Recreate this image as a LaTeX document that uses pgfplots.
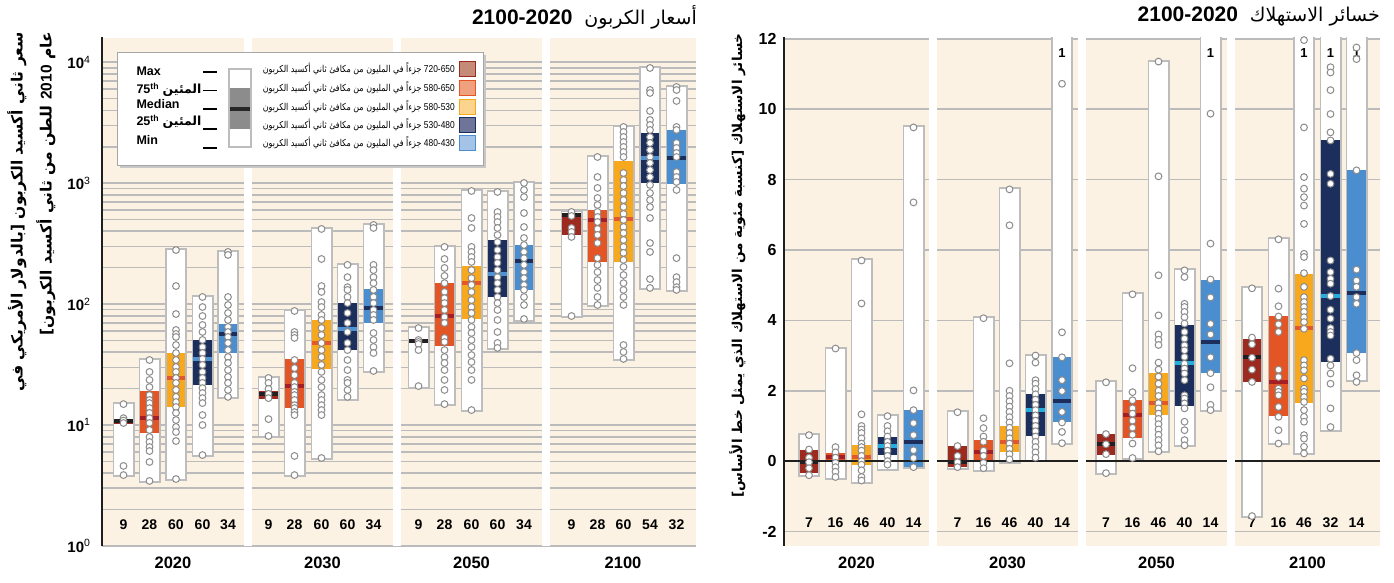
\documentclass[border=0pt]{standalone}
\usepackage{pgfplots}
\pgfplotsset{compat=1.18}
\usepackage{pgfplotstable}
\usepackage{graphicx}
\usepackage{fontspec}
\setmainfont{Liberation Sans}
\newfontfamily\arabicfont[Script=Arabic]{DejaVu Sans}
\TeXXeTstate=1
\newcommand\fs[1]{\fontsize{#1}{#1}\selectfont}
\definecolor{beige}{HTML}{FCF2E3}
\definecolor{gridgray}{HTML}{BBBBBB}
\definecolor{boxgray}{HTML}{BDBDBD}
\definecolor{circgray}{HTML}{8C8C8C}
\definecolor{band1}{HTML}{9C2A1E}
\definecolor{band2}{HTML}{E35524}
\definecolor{band3}{HTML}{F7A81D}
\definecolor{band4}{HTML}{1B2E5C}
\definecolor{band5}{HTML}{4A8ECF}
\definecolor{medL1}{HTML}{231F20}
\definecolor{medL2}{HTML}{A51E24}
\definecolor{medL3}{HTML}{E4572A}
\definecolor{medL4}{HTML}{4F93D2}
\definecolor{medL5}{HTML}{1B2E5C}
\definecolor{medR1}{HTML}{231F20}
\definecolor{medR2}{HTML}{A51E24}
\definecolor{medR3}{HTML}{E4572A}
\definecolor{medR4}{HTML}{22AEE0}
\definecolor{medR5}{HTML}{1B2E5C}
\definecolor{leg1}{HTML}{C58A78}
\definecolor{leg2}{HTML}{F0A07F}
\definecolor{leg3}{HTML}{FDD48E}
\definecolor{leg4}{HTML}{6F7598}
\definecolor{leg5}{HTML}{A4C3E6}

% boxes: x min q1 med q3 max c
\pgfplotstableread{
x min q1 med q3 max c
123.5 3.86 10.2 10.8 11.2 14.9 1
149.5 3.45 8.60 11.4 19.1 34.5 2
176 3.58 14.1 24.5 39.4 280 3
202.5 5.65 21.4 35.2 50.5 114.5 4
228 17.1 39.4 56.6 68.5 270 5
268.5 8.12 16.4 18.1 19.1 24.5 1
294.5 3.86 13.8 21.0 35.2 87.7 2
321.5 5.34 29.1 47.7 73.9 418 3
347.5 16.4 41.7 62.3 102 211 4
373.5 28.0 69.8 92.9 133 451 5
418.5 20.6 48.0 49.5 51.0 63.4 1
444.5 14.9 45.0 79.7 149 297 2
471.5 13.3 75.3 149 207 861 3
497.5 43.4 114.5 177 339 845 4
524 73.9 131 227 308 1003 5
571.5 79.7 373 548 570 578 1
597.5 98.3 223 496 600 1645 2
623.5 35.2 223 505 1525 2913 3
650 136 1003 1614 2598 8954 4
676.5 131 984 1614 2751 6237 5
}\boxL
\pgfplotstableread{
x min q1 med q3 max c
809 -0.40 -0.34 -0.03 0.31 0.74 1
835.5 -0.48 0.03 0.11 0.23 3.2 2
861.5 -0.6 -0.11 0.11 0.45 5.7 3
887.5 -0.23 0.17 0.43 0.68 1.28 4
913.5 -0.17 -0.17 0.54 1.45 9.48 5
957.5 -0.2 -0.17 -0.03 0.43 1.39 1
983.5 -0.26 0.03 0.26 0.6 4.06 2
1009.5 -0.03 0.26 0.54 0.99 7.72 3
1035.5 0.03 0.71 1.45 1.9 3.0 4
1062 0.51 1.11 1.70 2.95 13 5
1106 -0.34 0.17 0.48 0.77 2.24 1
1132.5 0.09 0.65 1.30 1.73 4.74 2
1158.5 0.28 1.30 1.65 2.5 11.35 3
1184.5 0.45 1.56 2.78 3.86 5.42 4
1210.5 1.45 2.5 3.38 5.16 13 5
1252 -1.56 2.24 2.95 3.46 4.91 1
1278.5 0.51 1.28 2.24 4.11 6.30 2
1304 0.23 1.65 3.77 5.33 13 3
1330.5 0.88 2.81 4.68 9.11 13 4
1356.5 2.30 3.06 4.77 8.26 13 5
}\boxR

\newcommand\drawboxes[2]{%
  \pgfplotstablegetrowsof{#1}%
  \pgfmathtruncatemacro\lastrow{\pgfplotsretval-1}%
  \pgfplotsforeachungrouped \rowi in {0,...,\lastrow}{%
    \pgfplotstablegetelem{\rowi}{x}\of{#1}\let\bx\pgfplotsretval
    \pgfplotstablegetelem{\rowi}{min}\of{#1}\let\bmin\pgfplotsretval
    \pgfplotstablegetelem{\rowi}{q1}\of{#1}\let\bqa\pgfplotsretval
    \pgfplotstablegetelem{\rowi}{med}\of{#1}\let\bmed\pgfplotsretval
    \pgfplotstablegetelem{\rowi}{q3}\of{#1}\let\bqb\pgfplotsretval
    \pgfplotstablegetelem{\rowi}{max}\of{#1}\let\bmax\pgfplotsretval
    \pgfplotstablegetelem{\rowi}{c}\of{#1}\let\bc\pgfplotsretval
    \edef\doit{%
      \noexpand\addplot[forget plot, draw=boxgray, line width=22pt, shorten <=-2pt, shorten >=-2pt] coordinates {(\bx,\bmin) (\bx,\bmax)};%
      \noexpand\addplot[forget plot, draw=white, line width=18.5pt] coordinates {(\bx,\bmin) (\bx,\bmax)};%
      \noexpand\addplot[forget plot, draw=band\bc, line width=18.5pt] coordinates {(\bx,\bqa) (\bx,\bqb)};%
      \noexpand\addplot[forget plot, only marks, mark=-, mark size=9.25pt, mark options={line width=4pt, draw=med#2\bc}] coordinates {(\bx,\bmed)};%
    }\doit
  }%
}
\def\cntL#1/#2\relax{\node[font=\bfseries\fs{14}] at (axis cs:#1,1.49) {#2};}
\def\cntR#1/#2\relax{\node[font=\bfseries\fs{14}] at (axis cs:#1,-1.76) {#2};}
\def\oneR#1\relax{\node[font=\bfseries\fs{13}] at (axis cs:#1,11.6) {1};}

\pgfplotsset{circ/.style={only marks, mark=*, mark size=3.4pt, mark options={fill=white, draw=circgray, line width=1pt}}}

\begin{document}
\begin{tikzpicture}
% ================= LEFT CHART =================
\begin{axis}[at={(102pt,36pt)}, anchor=south west, scale only axis, width=594pt, height=508pt,
  xmin=102, xmax=696, ymode=log, ymin=1, ymax=15849,
  axis background/.style={fill=beige},
  axis line style={draw=none},
  xtick=\empty, ytick={1,10,100,1000,10000},
  yticklabels={\textbf{10}\textsuperscript{0},\textbf{10}\textsuperscript{1},\textbf{10}\textsuperscript{2},\textbf{10}\textsuperscript{3},\textbf{10}\textsuperscript{4}},
  minor ytick={2,3,...,9,20,30,...,90,200,300,...,900,2000,3000,...,9000},
  ymajorgrids, yminorgrids,
  major grid style={draw=gridgray, line width=1.6pt},
  minor grid style={draw=gridgray, line width=1.6pt},
  major tick length=0pt, minor tick length=0pt,
  yticklabel style={font=\fs{15}, xshift=-8pt},
]
\fill[white] (axis cs:244,1) rectangle (axis cs:252,15849);
\fill[white] (axis cs:393,1) rectangle (axis cs:401,15849);
\fill[white] (axis cs:542,1) rectangle (axis cs:550,15849);
\drawboxes{\boxL}{L}
\addplot[circ] table[row sep=\\] {x y\\
123.5 14.9\\123.5 11.4\\123.5 10.9\\123.5 10.4\\123.5 4.59\\123.5 3.86\\
149.5 34.5\\149.5 27.5\\149.5 23.6\\149.5 20.6\\149.5 17.7\\149.5 16.1\\149.5 15.2\\149.5 13.8\\149.5 12.6\\149.5 11.4\\149.5 10.4\\149.5 9.10\\149.5 7.96\\149.5 7.24\\149.5 6.58\\149.5 6.10\\149.5 4.95\\149.5 3.45\\
176 280\\176 141\\176 82.8\\176 61.1\\176 56.6\\176 53.5\\176 45.9\\176 39.4\\176 34.5\\176 30.2\\176 27.5\\176 24.5\\176 22.3\\176 19.5\\176 17.1\\176 15.5\\176 14.1\\176 12.6\\176 11.0\\176 9.64\\176 8.76\\176 7.38\\176 3.58\\
202.5 114.5\\202.5 94.6\\202.5 79.7\\202.5 67.2\\202.5 58.8\\202.5 50.5\\202.5 44.2\\202.5 39.4\\202.5 35.2\\202.5 31.4\\202.5 27.5\\202.5 24.5\\202.5 22.3\\202.5 20.2\\202.5 18.4\\202.5 16.7\\202.5 15.2\\202.5 12.1\\202.5 10.0\\202.5 5.65\\
228 270\\228 255\\228 114.5\\228 98.3\\228 84.4\\228 73.9\\228 64.7\\228 58.8\\228 53.5\\228 47.7\\228 41.7\\228 36.5\\228 32.6\\228 28.5\\228 25.0\\228 22.3\\228 19.5\\228 17.1\\
268.5 24.5\\268.5 22.3\\268.5 19.9\\268.5 18.1\\268.5 16.7\\268.5 11.2\\268.5 8.12\\
294.5 87.7\\294.5 58.8\\294.5 55.5\\294.5 52.5\\294.5 34.5\\294.5 29.6\\294.5 25.9\\294.5 22.3\\294.5 20.6\\294.5 18.8\\294.5 17.7\\294.5 16.1\\294.5 14.6\\294.5 13.8\\294.5 12.8\\294.5 12.1\\294.5 5.55\\294.5 3.86\\
321.5 418\\321.5 236\\321.5 141\\321.5 126\\321.5 104\\321.5 94.6\\321.5 81.3\\321.5 73.9\\321.5 63.4\\321.5 55.5\\321.5 47.7\\321.5 41.7\\321.5 36.5\\321.5 31.4\\321.5 27.5\\321.5 23.6\\321.5 20.6\\321.5 17.7\\321.5 16.1\\321.5 14.6\\321.5 13.3\\321.5 12.1\\321.5 5.34\\
347.5 211\\347.5 167\\347.5 138\\347.5 131\\347.5 114.5\\347.5 102\\347.5 84.4\\347.5 69.8\\347.5 58.8\\347.5 47.7\\347.5 41.7\\347.5 34.5\\347.5 28.5\\347.5 23.6\\347.5 22.3\\347.5 19.5\\347.5 17.1\\
373.5 451\\373.5 426\\373.5 211\\373.5 191\\373.5 167\\373.5 149\\373.5 131\\373.5 114.5\\373.5 102\\373.5 89.4\\373.5 81.3\\373.5 73.9\\373.5 57.7\\373.5 50.5\\373.5 44.2\\373.5 39.4\\373.5 28.0\\
418.5 63.4\\418.5 50.5\\418.5 48.6\\418.5 46.8\\418.5 41.7\\418.5 21.0\\
444.5 297\\444.5 236\\444.5 199\\444.5 171\\444.5 149\\444.5 126\\444.5 112\\444.5 102\\444.5 89.4\\444.5 78.2\\444.5 69.8\\444.5 52.5\\444.5 48.6\\444.5 41.7\\444.5 36.5\\444.5 32.6\\444.5 28.5\\444.5 23.6\\444.5 19.5\\444.5 14.9\\
471.5 861\\471.5 515\\471.5 426\\471.5 297\\471.5 270\\471.5 245\\471.5 223\\471.5 191\\471.5 164\\471.5 144\\471.5 126\\471.5 108\\471.5 94.6\\471.5 84.4\\471.5 73.9\\471.5 64.7\\471.5 57.7\\471.5 50.5\\471.5 44.2\\471.5 37.9\\471.5 33.2\\471.5 28.5\\471.5 23.6\\471.5 13.3\\
497.5 845\\497.5 577\\497.5 525\\497.5 477\\497.5 426\\497.5 373\\497.5 326\\497.5 280\\497.5 245\\497.5 219\\497.5 191\\497.5 167\\497.5 149\\497.5 131\\497.5 114.5\\497.5 102\\497.5 89.4\\497.5 73.9\\497.5 58.8\\497.5 47.7\\497.5 43.4\\
524 1003\\524 878\\524 768\\524 566\\524 434\\524 352\\524 308\\524 270\\524 240\\524 211\\524 184\\524 164\\524 144\\524 131\\524 114.5\\524 98.3\\524 75.3\\
571.5 578\\571.5 535\\571.5 426\\571.5 395\\571.5 359\\571.5 79.7\\
597.5 1645\\597.5 1124\\597.5 912\\597.5 754\\597.5 660\\597.5 578\\597.5 525\\597.5 477\\597.5 418\\597.5 373\\597.5 320\\597.5 240\\597.5 211\\597.5 184\\597.5 158\\597.5 136\\597.5 114.5\\597.5 98.3\\
623.5 2913\\623.5 2649\\623.5 2408\\623.5 2188\\623.5 1991\\623.5 1809\\623.5 1645\\623.5 1213\\623.5 1062\\623.5 947\\623.5 829\\623.5 725\\623.5 635\\623.5 556\\623.5 496\\623.5 434\\623.5 387\\623.5 339\\623.5 297\\623.5 265\\623.5 232\\623.5 203\\623.5 174\\623.5 149\\623.5 131\\623.5 114.5\\623.5 98.3\\623.5 45.9\\623.5 40.2\\623.5 35.2\\
650 8954\\650 5890\\650 5562\\650 3951\\650 3327\\650 3027\\650 2751\\650 2408\\650 2148\\650 1880\\650 1645\\650 1468\\650 1284\\650 1124\\650 966\\650 829\\650 725\\650 635\\650 515\\650 320\\650 270\\650 161\\650 136\\
676.5 6237\\676.5 5890\\676.5 4779\\676.5 2913\\676.5 2751\\676.5 2148\\676.5 1953\\676.5 1775\\676.5 1645\\676.5 1236\\676.5 1124\\676.5 1022\\676.5 878\\676.5 240\\676.5 167\\676.5 152\\676.5 138\\676.5 131\\
};
\pgfplotsinvokeforeach{123.5/9,149.5/28,176/60,202.5/60,228/34,268.5/9,294.5/28,321.5/60,347.5/60,373.5/34,418.5/9,444.5/28,471.5/60,497.5/60,524/34,571.5/9,597.5/28,623.5/60,650/54,676.5/32}{\cntL#1\relax}
\end{axis}

% ================= RIGHT CHART =================
\begin{axis}[at={(784pt,36pt)}, anchor=south west, scale only axis, width=596pt, height=508pt,
  xmin=784, xmax=1380, ymin=-2.41, ymax=12.02,
  axis background/.style={fill=beige},
  axis line style={draw=none},
  xtick=\empty, ytick={-2,0,...,12},
  ymajorgrids,
  major grid style={draw=gridgray, line width=1.6pt},
  major tick length=0pt,
  /pgf/number format/assume math mode=true,
  yticklabel style={font=\bfseries\fs{16}, xshift=-4pt},
]
\fill[white] (axis cs:929,-3) rectangle (axis cs:937,13);
\fill[white] (axis cs:1078,-3) rectangle (axis cs:1086,13);
\fill[white] (axis cs:1227,-3) rectangle (axis cs:1235,13);
\drawboxes{\boxR}{R}
\draw[line width=2pt, black!88] (axis cs:784,0) -- (axis cs:929,0);
\draw[line width=2pt, black!88] (axis cs:937,0) -- (axis cs:1078,0);
\draw[line width=2pt, black!88] (axis cs:1086,0) -- (axis cs:1227,0);
\draw[line width=2pt, black!88] (axis cs:1235,0) -- (axis cs:1380,0);
\addplot[circ] table[row sep=\\] {x y\\
809 0.74\\809 0.33\\809 0.1\\809 -0.03\\809 -0.2\\809 -0.4\\
835.5 3.2\\835.5 0.4\\835.5 0.25\\835.5 0.1\\835.5 -0.05\\835.5 -0.17\\835.5 -0.3\\835.5 -0.45\\
861.5 5.7\\861.5 4.48\\861.5 1.33\\861.5 1.0\\861.5 0.9\\861.5 0.8\\861.5 0.65\\861.5 0.5\\861.5 0.4\\861.5 0.3\\861.5 0.15\\861.5 0.0\\861.5 -0.1\\861.5 -0.26\\861.5 -0.45\\861.5 -0.55\\
887.5 1.28\\887.5 1.0\\887.5 0.85\\887.5 0.7\\887.5 0.55\\887.5 0.43\\887.5 0.3\\887.5 0.15\\887.5 0.0\\887.5 -0.1\\
913.5 9.48\\913.5 7.35\\913.5 2.01\\913.5 1.45\\913.5 1.08\\913.5 0.74\\913.5 0.31\\913.5 0.09\\913.5 -0.17\\
957.5 1.39\\957.5 0.43\\957.5 0.15\\957.5 -0.03\\957.5 -0.17\\
983.5 4.06\\983.5 1.22\\983.5 0.94\\983.5 0.7\\983.5 0.55\\983.5 0.3\\983.5 0.15\\983.5 -0.05\\983.5 -0.2\\
1009.5 7.72\\1009.5 6.7\\1009.5 2.78\\1009.5 2.0\\1009.5 1.85\\1009.5 1.7\\1009.5 1.55\\1009.5 1.4\\1009.5 1.25\\1009.5 1.1\\1009.5 0.95\\1009.5 0.8\\1009.5 0.65\\1009.5 0.5\\1009.5 0.35\\1009.5 0.2\\1009.5 0.05\\
1035.5 3.0\\1035.5 2.8\\1035.5 2.3\\1035.5 2.2\\1035.5 2.05\\1035.5 1.9\\1035.5 1.75\\1035.5 1.6\\1035.5 1.45\\1035.5 1.3\\1035.5 1.15\\1035.5 1.0\\1035.5 0.85\\1035.5 0.7\\1035.5 0.55\\1035.5 0.4\\1035.5 0.25\\1035.5 0.1\\
1062 10.72\\1062 3.66\\1062 2.95\\1062 2.3\\1062 1.99\\1062 1.4\\1062 1.1\\1062 0.83\\1062 0.51\\
1106 2.24\\1106 0.77\\1106 0.48\\1106 0.2\\1106 -0.34\\
1132.5 4.74\\1132.5 2.64\\1132.5 1.96\\1132.5 1.73\\1132.5 1.5\\1132.5 1.35\\1132.5 1.15\\1132.5 0.95\\1132.5 0.75\\1132.5 0.5\\1132.5 0.09\\
1158.5 11.35\\1158.5 8.09\\1158.5 5.28\\1158.5 4.14\\1158.5 3.6\\1158.5 3.45\\1158.5 3.3\\1158.5 2.8\\1158.5 2.6\\1158.5 2.4\\1158.5 2.2\\1158.5 2.0\\1158.5 1.85\\1158.5 1.65\\1158.5 1.5\\1158.5 1.35\\1158.5 1.2\\1158.5 1.05\\1158.5 0.9\\1158.5 0.75\\1158.5 0.6\\1158.5 0.45\\1158.5 0.28\\
1184.5 5.42\\1184.5 5.23\\1184.5 4.47\\1184.5 4.38\\1184.5 4.24\\1184.5 4.09\\1184.5 3.91\\1184.5 3.67\\1184.5 3.48\\1184.5 3.29\\1184.5 3.15\\1184.5 2.96\\1184.5 2.77\\1184.5 2.63\\1184.5 2.49\\1184.5 2.30\\1184.5 1.87\\1184.5 1.78\\1184.5 1.64\\1184.5 1.50\\1184.5 1.12\\1184.5 0.88\\1184.5 0.60\\1184.5 0.45\\
1210.5 9.87\\1210.5 6.18\\1210.5 5.16\\1210.5 4.65\\1210.5 3.9\\1210.5 3.6\\1210.5 2.95\\1210.5 2.5\\1210.5 2.1\\1210.5 1.6\\1210.5 1.45\\
1252 4.91\\1252 3.51\\1252 3.32\\1252 2.94\\1252 2.60\\1252 2.25\\1252 -1.56\\
1278.5 6.30\\1278.5 4.90\\1278.5 4.40\\1278.5 4.11\\1278.5 3.89\\1278.5 3.67\\1278.5 2.60\\1278.5 2.39\\1278.5 2.06\\1278.5 1.97\\1278.5 1.87\\1278.5 1.54\\1278.5 1.26\\1278.5 0.88\\1278.5 0.50\\
1304 11.96\\1304 9.48\\1304 8.07\\1304 7.74\\1304 7.50\\1304 7.26\\1304 6.74\\1304 5.89\\1304 5.80\\1304 5.34\\1304 4.95\\1304 4.66\\1304 4.52\\1304 4.38\\1304 4.24\\1304 4.09\\1304 3.95\\1304 3.76\\1304 2.87\\1304 2.72\\1304 2.58\\1304 2.35\\1304 2.06\\1304 1.97\\1304 1.82\\1304 1.68\\1304 1.45\\1304 1.26\\1304 1.12\\1304 0.74\\1304 0.64\\1304 0.41\\1304 0.22\\
1330.5 11.19\\1330.5 11.04\\1330.5 10.54\\1330.5 9.86\\1330.5 9.34\\1330.5 9.11\\1330.5 8.16\\1330.5 7.88\\1330.5 5.70\\1330.5 5.37\\1330.5 5.18\\1330.5 5.04\\1330.5 4.69\\1330.5 4.30\\1330.5 4.05\\1330.5 3.78\\1330.5 3.67\\1330.5 3.57\\1330.5 2.91\\1330.5 2.72\\1330.5 2.49\\1330.5 2.20\\1330.5 1.50\\1330.5 0.97\\
1356.5 11.75\\1356.5 11.42\\1356.5 8.26\\1356.5 5.44\\1356.5 5.13\\1356.5 4.95\\1356.5 4.66\\1356.5 4.47\\1356.5 3.07\\1356.5 2.87\\1356.5 2.44\\1356.5 2.25\\
};
\pgfplotsinvokeforeach{809/7,835.5/16,861.5/46,887.5/40,913.5/14,957.5/7,983.5/16,1009.5/46,1035.5/40,1062/14,1106/7,1132.5/16,1158.5/46,1184.5/40,1210.5/14,1252/7,1278.5/16,1304/46,1330.5/32,1356.5/14}{\cntR#1\relax}
\pgfplotsinvokeforeach{1062,1210.5,1304,1330.5,1356.5}{\oneR#1\relax}
\end{axis}

% ================= DECORATIONS (pixel coordinates) =================
\begin{scope}[yshift=582pt, x=1pt, y=-1pt]
  \draw[line width=2.6pt, black!88] (102,37) -- (102,546);
  \draw[line width=2.6pt, black!88] (784,37) -- (784,546);
  \foreach \xx/\yy in {173/2020,322.5/2030,471.5/2050,623/2100,856.5/2020,1007.5/2030,1156.5/2050,1307.5/2100}{
    \node[font=\bfseries\fs{16.5}] at (\xx,563) {\yy};
  }
  % titles
  \node[anchor=east, inner sep=0pt] at (697,17) {\arabicfont\fs{19}\beginR أسعار الكربون {\rmfamily\bfseries\fs{21} 2100-2020}\endR};
  \node[anchor=east, inner sep=0pt] at (1380,16) {\arabicfont\fs{19}\beginR خسائر الاستهلاك {\rmfamily\bfseries\fs{21} 2100-2020}\endR};
  % y labels
  \node[rotate=90, anchor=north east, align=right, inner sep=0pt, font=\arabicfont\bfseries\fontsize{15.5}{29}\selectfont] at (7,32)
    {\beginR سعر ثاني أكسيد الكربون [بالدولار الأمريكي في\endR\\\beginR عام {\rmfamily\bfseries 2010} للطن من ثاني أكسيد الكربون]\endR};
  \node[rotate=90, anchor=north east, inner sep=0pt, font=\arabicfont\bfseries\fs{13.6}] at (729,33)
    {\beginR خسائر الاستهلاك [كنسبة مئوية من الاستهلاك الذي يمثل خط الأساس]\endR};
  % legend
  \fill[black!22] (120,55) rectangle (486,168);
  \draw[gray!70, line width=0.8pt, fill=white] (117,52) rectangle (483,165);
  \node[anchor=west, font=\bfseries\fs{12.5}] at (133,71) {Max};
  \node[anchor=west, font=\bfseries\fs{12.5}] at (133,90) {75\textsuperscript{th} {\arabicfont\beginR المئين\endR}};
  \node[anchor=west, font=\bfseries\fs{12.5}] at (133,104) {Median};
  \node[anchor=west, font=\bfseries\fs{12.5}] at (133,122) {25\textsuperscript{th} {\arabicfont\beginR المئين\endR}};
  \node[anchor=west, font=\bfseries\fs{12.5}] at (133,140) {Min};
  \draw[line width=1.6pt] (203,72) -- (217,72);
  \draw[line width=1pt] (203,91) -- (217,91);
  \draw[line width=1.6pt] (203,109) -- (217,109);
  \draw[line width=1.6pt] (203,129) -- (217,129);
  \draw[line width=1.6pt] (203,148) -- (217,148);
  \draw[boxgray, line width=1.6pt, fill=white] (229,69) rectangle (251,147);
  \fill[black!45] (230,88) rectangle (250,129);
  \fill[black!85] (230,107.5) rectangle (250,111.5);
  \foreach \yy/\cc/\tt in {69/1/720-650, 88/2/580-650, 107/3/580-530, 125/4/530-480, 143/5/480-430}{
    \node[anchor=east, inner sep=0pt] at (455,\yy) {\scalebox{0.84}[1]{\arabicfont\fs{9.5}\beginR{\rmfamily\fs{10}\tt}\ جزءاً في المليون من مكافئ ثاني أكسيد الكربون\endR}};
    \draw[band\cc, line width=1pt, fill=leg\cc] (459,\yy-7.5) rectangle (475,\yy+7.5);
  }
\end{scope}
\pgfresetboundingbox
\useasboundingbox (0,0) rectangle (1394pt,582pt);
\end{tikzpicture}
\end{document}
